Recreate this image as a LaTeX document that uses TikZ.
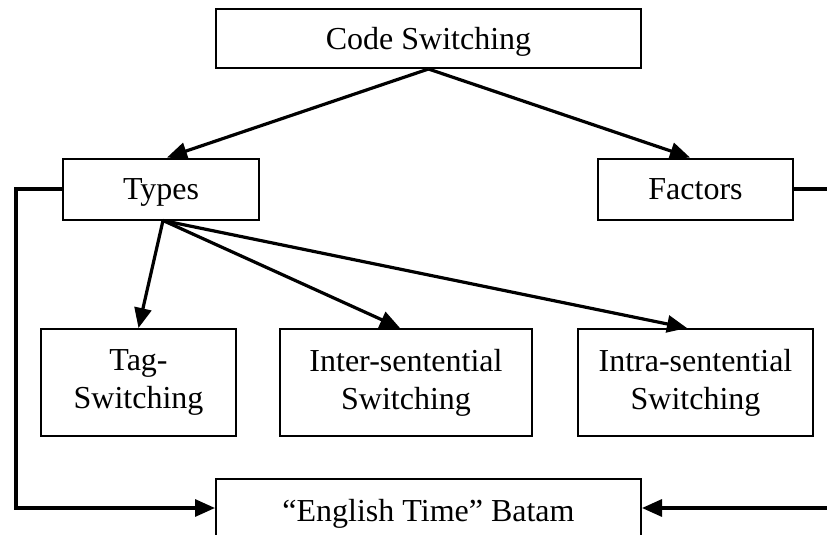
\documentclass[tikz,border=0pt]{standalone}
\usepackage{fontspec}
\setmainfont{Liberation Serif}
\usetikzlibrary{arrows.meta,calc}
\tikzset{
  box/.style={draw, line width=2pt, inner sep=0pt, align=center,
    font=\fontsize{32}{38}\selectfont},
  onerow/.style={text height=25pt, text depth=4pt},
  link/.style={line width=3.2pt, -{Triangle[length=20pt,width=17pt]}}
}
\begin{document}
\begin{tikzpicture}[x=1pt,y=-1pt]
\useasboundingbox (0,0) rectangle (827,535);
\clip (0,0) rectangle (827,535);

% top level
\node[box, onerow, minimum width=425pt, minimum height=59pt] (cs) at (428.5,38.5) {Code Switching};

% second level
\node[box, onerow, minimum width=196pt, minimum height=61pt] (types) at (161,189) {Types};
\node[box, onerow, minimum width=195pt, minimum height=61pt] (factors) at (695.5,189) {Factors};

% kinds of switching
\node[box, minimum width=195pt, minimum height=107pt] (tag) at (138.5,382.5) {Tag-\\Switching};
\node[box, minimum width=252pt, minimum height=107pt] (inter) at (406,382.5) {Inter-sentential\\Switching};
\node[box, minimum width=235pt, minimum height=107pt] (intra) at (695.5,382.5) {Intra-sentential\\Switching};

% setting
\node[box, onerow, minimum width=425pt, minimum height=64pt] (eng) at (428.5,511) {“English Time” Batam};

% arrows from the root
\draw[link] (cs.south) -- ($(types.north)+(6,0)$);
\draw[link] (cs.south) -- ($(factors.north)+(-5.5,0)$);

% arrows from Types
\draw[link] ($(types.south)+(2,0)$) -- (tag.north);
\draw[link] ($(types.south)+(2,0)$) -- ($(inter.north)+(-6,0)$);
\draw[link] ($(types.south)+(2,0)$) -- ($(intra.north)+(-8.5,0)$);

% side routes into the setting box
\coordinate (lt) at (16,189);
\coordinate (lb) at (16,508);
\coordinate (rt) at (840,189);
\coordinate (rb) at (840,508);
\draw[link] (types.west) -- (lt) -- (lb) -- (lb -| eng.west);
\draw[link] (factors.east) -- (rt) -- (rb) -- (rb -| eng.east);
\end{tikzpicture}
\end{document}
